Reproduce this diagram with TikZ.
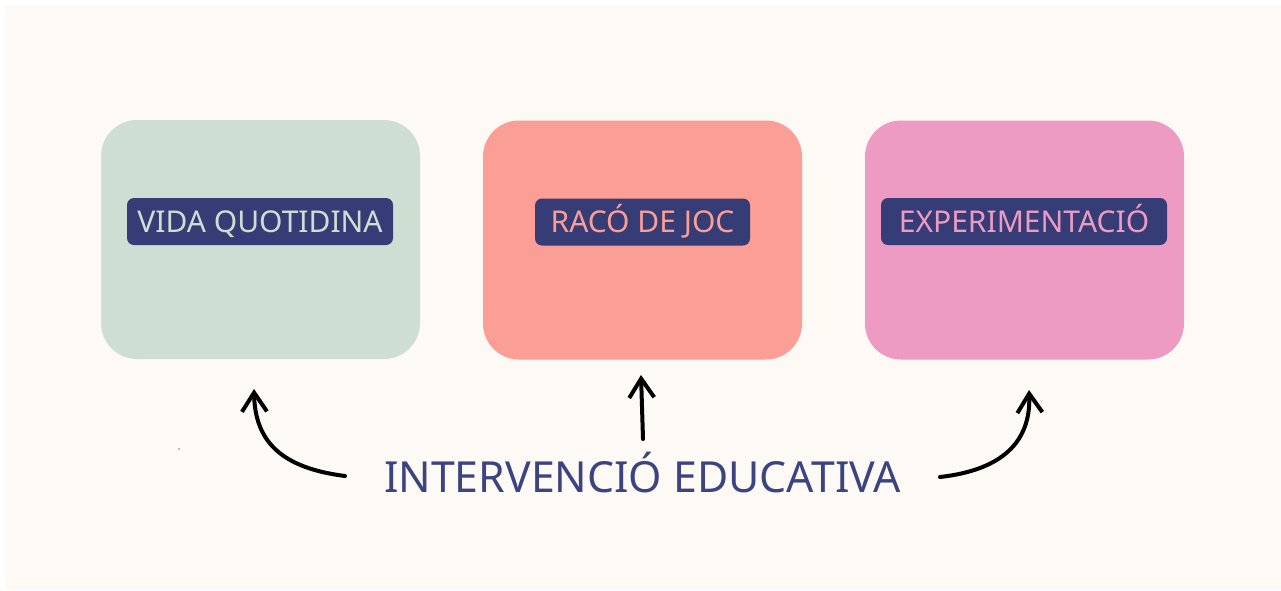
\documentclass[tikz,border=0pt]{standalone}
\usepackage{fontspec}
\setmainfont{Noto Sans}
\usetikzlibrary{arrows.meta}
\definecolor{cream}{HTML}{FDF9F4}
\definecolor{sage}{HTML}{CFDED3}
\definecolor{salmon}{HTML}{FB9E96}
\definecolor{pinkish}{HTML}{ED9BC3}
\definecolor{navy}{HTML}{363C75}
\definecolor{titleblue}{HTML}{3C4381}
\tikzset{
  area/.style={rounded corners=36pt, minimum width=319pt, minimum height=239pt, inner sep=0pt},
  tag/.style={fill=navy, rounded corners=7pt, minimum height=47pt, inner sep=0pt, text height=21.5pt, text depth=0pt, font=\fontsize{30}{32}\selectfont},
  hand/.style={line width=4pt, line cap=round, line join=round, -{Straight Barb[length=19pt,width=25pt,line width=4pt]}},
}
\begin{document}
\begin{tikzpicture}[x=1pt,y=-1pt]
\useasboundingbox (0,0) rectangle (1281,590);
\fill[white] (0,0) rectangle (1281,590);
\fill[cream] (5,5) rectangle (1281,590);
\node[area, fill=sage] (b1) at (260.5,239.5) {};
\node[area, fill=salmon] (b2) at (642.5,240) {};
\node[area, fill=pinkish] (b3) at (1024.5,240) {};
\node[tag, text=sage, minimum width=266pt] (l1) at (260,221.5) {VIDA QUOTIDINA};
\node[tag, text=salmon, minimum width=215pt] (l2) at (642.5,222) {RACÓ DE JOC};
\node[tag, text=pinkish, minimum width=286pt] (l3) at (1024,221.5) {EXPERIMENTACIÓ};
\node[text=titleblue, font=\fontsize{42.8}{46}\selectfont, inner sep=0pt, text height=30pt, text depth=0pt] (t) at (642.5,477) {INTERVENCIÓ EDUCATIVA};
\coordinate (s1) at (345,476);
\coordinate (e1) at (254,389);
\coordinate (s2) at (643,439);
\coordinate (e2) at (641,375);
\coordinate (s3) at (940,477);
\coordinate (e3) at (1029,390);
\draw[hand] (s1) .. controls (282,468) and (255,442) .. (e1);
\draw[hand] (s2) -- (e2);
\draw[hand] (s3) .. controls (1002,470) and (1031,442) .. (e3);
\fill[gray] (179,449) circle (0.8pt);
\end{tikzpicture}
\end{document}
